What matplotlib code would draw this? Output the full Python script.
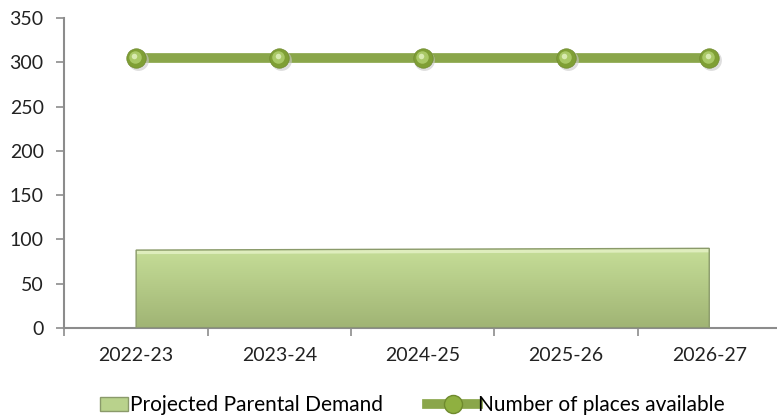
import numpy as np
import matplotlib.pyplot as plt
from matplotlib.patches import Polygon, Patch
from matplotlib.lines import Line2D

plt.rcParams['font.family'] = ['Lato', 'DejaVu Sans']

years = ["2022-23", "2023-24", "2024-25", "2025-26", "2026-27"]
demand = [88, 88.5, 89, 89.5, 90]
places = [305, 305, 305, 305, 305]

fig = plt.figure(figsize=(7.77, 4.2), dpi=100)
ax = fig.add_axes([0.083, 0.219, 0.922, 0.738])
x = np.arange(len(years))

# area with vertical gradient, clipped to the polygon
verts = [(x[0], 0)] + list(zip(x, demand)) + [(x[-1], 0)]
poly = Polygon(verts, closed=True, facecolor='none', edgecolor='#8a9a6a', lw=1.0, zorder=3)
ax.add_patch(poly)
grad = np.linspace(0, 1, 256).reshape(-1, 1)
top = np.array([198, 222, 152]) / 255
bot = np.array([160, 180, 116]) / 255
img = top + (bot - top) * grad[..., None]
img = img.reshape(256, 1, 3)
im = ax.imshow(img, extent=[x[0], x[-1], 0, max(demand)], origin='upper',
               aspect='auto', zorder=2)
im.set_clip_path(poly)
# bevel highlight along the top
ax.fill_between(x, np.array(demand) - 4, demand, color='#e6f2c8', alpha=0.8, zorder=2.5, lw=0)

# line series
ax.plot(x, places, color='#8aa64a', lw=7, solid_capstyle='butt', zorder=4)
ax.plot(x + 0.012, np.array(places) - 2, 'o', ms=15, color='#c8c8c8', alpha=0.6, mec='none', zorder=4.5)
ax.plot(x, places, 'o', ms=14, color='#7f9f35', mec='#6f8a2e', mew=0.5, zorder=5)
ax.plot(x - 0.008, np.array(places) + 1.2, 'o', ms=9, color='#a9c866', mec='none', zorder=5.5)
ax.plot(x - 0.012, np.array(places) + 2.4, 'o', ms=4, color='#d8eab0', mec='none', zorder=6)

ax.set_xlim(-0.5, 4.5)
ax.set_ylim(0, 350)
ax.set_yticks(range(0, 351, 50))
ax.set_xticks(x)
ax.set_xticklabels(years)
ax.set_xticks(np.arange(-0.5, 4.6, 1), minor=True)
ax.tick_params(axis='x', which='major', length=0, pad=14, labelsize=14, colors='#222222')
ax.tick_params(axis='x', which='minor', length=6, color='#8c8c8c', width=1.2)
ax.tick_params(axis='y', length=6, color='#8c8c8c', width=1.2, labelsize=14, labelcolor='#222222', pad=9)
for s in ['top', 'right']:
    ax.spines[s].set_visible(False)
for s in ['left', 'bottom']:
    ax.spines[s].set_color('#8c8c8c')
    ax.spines[s].set_linewidth(1.5)

h1 = [Patch(facecolor='#b9d28c', edgecolor='#8a9a6a', label='Projected Parental Demand')]
h2 = [Line2D([], [], color='#8aa64a', lw=7, marker='o', ms=13, mfc='#8fb040',
             mec='#6f8a2e', label='Number of places available')]
fig.legend(handles=h1, loc='center left', bbox_to_anchor=(100 / 777, 0.035), frameon=False,
           fontsize=15, handlelength=1.35, handletextpad=0.1, handleheight=0.6,
           borderpad=0, borderaxespad=0)
fig.legend(handles=h2, loc='center left', bbox_to_anchor=(427 / 777, 0.035), frameon=False,
           fontsize=15, handlelength=2.45, handletextpad=0.0, borderpad=0, borderaxespad=0)

fig.savefig('out.png', dpi=100)
